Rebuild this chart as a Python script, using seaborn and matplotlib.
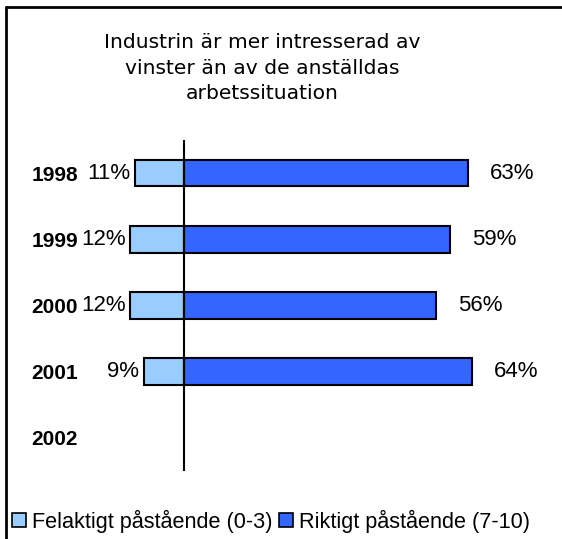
import matplotlib
matplotlib.use("Agg")
import matplotlib.pyplot as plt
from matplotlib.patches import Patch
from matplotlib.lines import Line2D
import seaborn as sns
import pandas as pd

years = ["1998", "1999", "2000", "2001", "2002"]
data_years = ["1998", "1999", "2000", "2001"]
felaktigt = [11, 12, 12, 9]
riktigt = [63, 59, 56, 64]
title = "Industrin är mer intresserad av\nvinster än av de anställdas\narbetssituation"
legend_labels = ["Felaktigt påstående (0-3)", "Riktigt påstående (7-10)"]
light = "#99CCFF"
dark = "#3366FF"

sns.set_theme(style="white")
plt.rcParams["font.family"] = ["Liberation Sans", "DejaVu Sans"]
plt.rcParams["text.color"] = "black"
plt.rcParams["axes.labelcolor"] = "black"
plt.rcParams["ytick.color"] = "black"

W, H = 562, 539
fig = plt.figure(figsize=(W / 100, H / 100), dpi=100)
ax = fig.add_axes([100 / W, 1 - 471 / H, 440 / W, 331 / H])

df = pd.DataFrame({"year": data_years,
                   "neg": [-v for v in felaktigt],
                   "pos": riktigt})

sns.barplot(data=df, x="neg", y="year", order=years, orient="h", color=light,
            saturation=1, width=0.4, edgecolor="black", linewidth=1.5, ax=ax)
sns.barplot(data=df, x="pos", y="year", order=years, orient="h", color=dark,
            saturation=1, width=0.4, edgecolor="black", linewidth=1.5, ax=ax)

ax.set_xlim((100 - 184) / 4.5, (540 - 184) / 4.5)
ax.set_ylim(4.5, -0.5)
ax.axvline(0, color="black", lw=1.5, zorder=5)
for s in ax.spines.values():
    s.set_visible(False)
ax.set_xticks([])
ax.set_xlabel("")
ax.set_ylabel("")
ax.tick_params(axis="y", length=0, pad=16)
ax.set_yticks(range(len(years)))
ax.set_yticklabels(years, fontsize=15, fontweight="bold", color="black")

for i, (f, r) in enumerate(zip(felaktigt, riktigt)):
    ax.annotate(f"{f}%", xy=(-f, i), xytext=(-3, 0), textcoords="offset points",
                ha="right", va="center", fontsize=16, color="black")
    ax.annotate(f"{r}%", xy=(r, i), xytext=(16, 0), textcoords="offset points",
                ha="left", va="center", fontsize=16, color="black")

fig.text(262 / W, 1 - 68 / H, title, ha="center", va="center", fontsize=14.6,
         linespacing=1.42, color="black", family=["DejaVu Sans"])

handles = [Patch(facecolor=light, edgecolor="black", linewidth=1.2),
           Patch(facecolor=dark, edgecolor="black", linewidth=1.2)]
fig.legend(handles, legend_labels, loc="center left",
           bbox_to_anchor=(12 / W, 1 - 521 / H), ncol=2, frameon=False,
           fontsize=15.6, handlelength=0.64, handleheight=0.64,
           handletextpad=0.28, columnspacing=0.3, borderpad=0, borderaxespad=0,
           labelcolor="black")

fig.add_artist(Line2D([6 / W, 6 / W], [0, 1 - 7 / H], color="black", lw=2))
fig.add_artist(Line2D([6 / W, 1], [1 - 7 / H, 1 - 7 / H], color="black", lw=2))

fig.savefig("out.png", dpi=100)
